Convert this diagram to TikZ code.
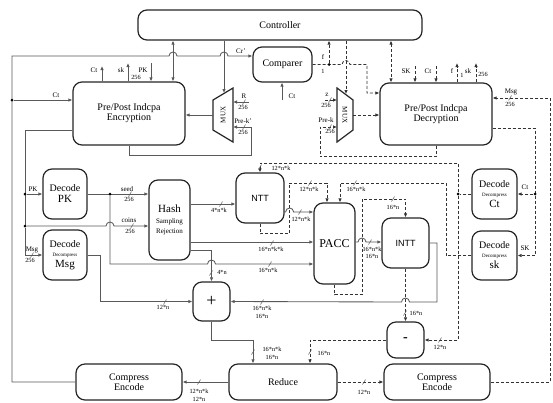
\documentclass[tikz,border=0pt]{standalone}
\usepackage{fontspec}
\setmainfont{Liberation Serif}
\newfontfamily\sansf{Liberation Sans}
\usetikzlibrary{arrows.meta,calc}
\newcommand{\fsz}[1]{\fontsize{#1}{#1}\selectfont}
\newcommand{\bus}[1]{\draw[ln,line width=0.5pt] ($(#1)+(-1.5,2.5)$) -- ($(#1)+(1.5,-2.5)$);}
\tikzset{
  blk/.style={draw=black!85, line width=1.2pt, rounded corners=9pt, align=center, inner sep=1pt, font=\fsz{10}},
  mux/.style={draw=black!85, line width=1.2pt},
  ln/.style={line width=0.85pt, draw=black!65},
  dln/.style={line width=0.85pt, draw=black!80, dash pattern=on 3pt off 2pt},
  arr/.style={-{Latex[length=4pt,width=3.5pt]}},
  barr/.style={{Latex[length=4pt,width=3.5pt]}-{Latex[length=4pt,width=3.5pt]}},
  lbl/.style={font=\fsz{6.3}, inner sep=0.5pt},
  sig/.style={font=\fsz{7}, inner sep=0.5pt},
  jdot/.style={circle, fill=black, inner sep=0pt, minimum size=3pt},
}
\begin{document}
\begin{tikzpicture}[x=1pt,y=-1pt]
\useasboundingbox[fill=white] (0,0) rectangle (553,402);

% blocks
\node[blk, minimum width=284pt, minimum height=30pt] (ctrl) at (280,25) {Controller};
\node[blk, minimum width=59pt, minimum height=35pt] (comp) at (282.5,64.5) {Comparer};
\node[blk, minimum width=112pt, minimum height=63pt] (enc) at (129,113.5) {Pre/Post Indcpa\\Encryption};
\node[blk, minimum width=112pt, minimum height=62pt] (dec) at (436,114) {Pre/Post Indcpa\\Decryption};
\node[blk, minimum width=44pt, minimum height=50pt] (dpk) at (65,194) {Decode\\[1pt]{\fsz{11}PK}};
\node[blk, minimum width=44pt, minimum height=50pt] (dmsg) at (65,255) {Decode\\[-1pt]{\fsz{5}Decompress}\\[1pt]{\fsz{11}Msg}};
\node[blk, minimum width=41pt, minimum height=80pt] (hash) at (169.5,220) {{\fsz{11}Hash}\\[1pt]{\fsz{7}Sampling}\\[0pt]{\fsz{7}Rejection}};
\node[blk, minimum width=48pt, minimum height=50pt, font=\sansf\fsz{9}] (ntt) at (260,198) {NTT};
\node[blk, minimum width=41pt, minimum height=81pt, font=\fsz{12}] (pacc) at (334.5,243.5) {PACC};
\node[blk, minimum width=47pt, minimum height=50pt, font=\sansf\fsz{9}] (intt) at (405.5,243) {INTT};
\node[blk, minimum width=45pt, minimum height=50pt] (dct) at (494.5,194) {Decode\\[-1pt]{\fsz{5}Decompress}\\[1pt]{\fsz{11}Ct}};
\node[blk, minimum width=45pt, minimum height=49pt] (dsk) at (494.5,255.5) {Decode\\[-1pt]{\fsz{5}Decompress}\\[1pt]{\fsz{11}sk}};
\node[blk, minimum width=37pt, minimum height=39pt, font=\fsz{18}] (plus) at (211.5,301.5) {+};
\node[blk, minimum width=37pt, minimum height=36pt, font=\bfseries\fsz{14}] (minus) at (405.5,340) {-};
\node[blk, minimum width=108pt, minimum height=36pt] (red) at (283,382) {Reduce};
\node[blk, minimum width=106pt, minimum height=36pt] (ce1) at (129,382) {Compress\\Encode};
\node[blk, minimum width=106pt, minimum height=36pt] (ce2) at (437,382) {Compress\\Encode};

% muxes
\draw[mux] (213,100) -- (233,88) -- (233,142) -- (213,130) -- cycle;
\node[font=\fsz{7}, rotate=90] (mxl) at (223,115) {MUX};
\draw[mux] (353,100) -- (337,88) -- (337,142) -- (353,130) -- cycle;
\node[font=\fsz{7}, rotate=-90] (mxr) at (345,115) {MUX};
\coordinate (mlT) at (224,93);
\coordinate (mlR) at (233,102);
\coordinate (mlP) at (233,127);
\coordinate (mlO) at (213,115);
\coordinate (mrT) at (346,94);
\coordinate (mrZ) at (337,100);
\coordinate (mrP) at (337,127);
\coordinate (mrO) at (353,115);

% rows used by the buses
\coordinate (r93) at (0,93);
\coordinate (r98) at (0,98);
\coordinate (r128) at (0,128);
\coordinate (r204) at (0,204);
\coordinate (r212) at (0,212);
\coordinate (r242) at (0,242);
\coordinate (r250) at (0,250);

% encryption side (solid)
\coordinate (lc) at (12,56);
\draw[ln,arr] (ce1.west) -| (lc) -- (169,56) arc[start angle=180,end angle=0,radius=4pt] -- (220,56) arc[start angle=180,end angle=0,radius=4pt] -- (lc -| comp.west);
\node[sig] (lcr) at (241,51) {Cr'};
\node[jdot] (d1) at (12,100) {};
\draw[ln,arr] (d1) -- (d1 -| enc.west);
\node[sig] (lct1) at (56,95) {Ct};
\coordinate (ect) at (102,66);
\draw[ln,arr] (ect |- enc.north) -- (ect);
\node[sig] (lct2) at (94,70) {Ct};
\coordinate (esk) at (128,63);
\draw[ln,arr] (esk |- enc.north) -- (esk);
\node[sig] (lsk1) at (121,70) {sk};
\node[lbl] (lsk1n) at (136,77) {256};
\coordinate (epk) at (151,63);
\draw[ln,arr] (epk) -- (epk |- enc.north);
\node[sig] (lpk1) at (143,70) {PK};
\coordinate (ecc) at (173,60);
\draw[ln,barr] (ecc |- ctrl.south) -- (ecc |- enc.north);
\draw[ln,arr] (mlT |- ctrl.south) -- (mlT);
\draw[ln,arr] (249,102) -- (mlR);
\node[sig] (lr) at (244,96) {R};
\node[lbl] (lrn) at (243,107) {256};
\draw[ln,arr] (enc.south) -- ++(0,10) -| (251,127) -- (mlP);
\node[sig] (lpre1) at (243,121) {Pre-k'};
\node[lbl] (lpre1n) at (243,132) {256};
\draw[ln,arr] (mlO) -- (mlO -| enc.east);
\coordinate (cct) at (282,100);
\draw[ln,arr] (cct) -- (cct |- comp.south);
\node[sig] (lct3) at (292,96) {Ct};

% decode side, left
\coordinate (pe) at (25,130);
\draw[ln] (pe -| enc.west) -- (pe) -- (25,226);
\node[jdot] (d2) at (25,194) {};
\node[jdot] (d3) at (25,226) {};
\draw[ln,arr] (d3) |- (dmsg.west);
\node[sig] (lmsg1) at (32,250) {Msg};
\node[lbl] (lmsg1n) at (30,260) {256};
\draw[ln,arr] (d2) -- (dpk.west);
\node[sig] (lpk2) at (33,189) {PK};
\draw[ln,arr] (dpk.east) -- (dpk.east -| hash.west);
\node[sig] (lseed) at (127,189) {seed};
\node[lbl] (lseedn) at (129,199) {256};
\node[jdot] (d4) at (110,194) {};
\draw[ln,arr] (d3) -- (106,226) arc[start angle=180,end angle=0,radius=4pt] -- (d3 -| hash.west);
\node[sig] (lcoins) at (129,220) {coins};
\node[lbl] (lcoinsn) at (130,231) {256};
\coordinate (q1) at (110,264);
\draw[ln,arr] (d4) -- (q1) -- (207.5,264) arc[start angle=180,end angle=0,radius=4pt] -- (q1 -| pacc.west);
\node[lbl] (l16a) at (268,270) {16*n*k};
\draw[ln,arr] (dmsg.east) -- (100,255) |- (plus.west);
\node[lbl] (l12a) at (163,307) {12*n};

% hash, ntt, pacc, intt
\draw[ln,arr] (r204 -| hash.east) -- (r204 -| ntt.west);
\node[lbl] (l4a) at (219,210) {4*n*k};
\draw[ln,arr] (r242 -| hash.east) -- (r242 -| pacc.west);
\node[lbl] (l16b) at (271,249) {16*n*k*k};
\draw[ln,arr] (r250 -| hash.east) -| (plus.north);
\node[lbl] (l4b) at (222,272) {4*n};
\draw[ln,arr] (r212 -| ntt.east) -- ++(1,0) arc[start angle=180,end angle=0,radius=4pt] -- (r212 -| pacc.west);
\node[lbl] (l12b) at (301,219) {12*n*k};
\draw[ln,arr] (r242 -| pacc.east) -- (358,242) arc[start angle=180,end angle=0,radius=4pt] -- (r242 -| intt.west);
\node[lbl] (l16c) at (372,249) {16*n*k};
\node[lbl] (l16d) at (372,256) {16*n};
\draw[ln,arr] (intt.east) -- (437,243) -- (437,302) -- (409.5,302) arc[start angle=0,end angle=180,radius=4pt] -- (plus.east);
\node[lbl] (l16e) at (262,308) {16*n*k};
\node[lbl] (l16f) at (262,316) {16*n};
\coordinate (c340) at (253,340);
\draw[ln,arr] (plus.south) |- (c340) -- (c340 |- red.north);
\node[lbl] (l16g) at (272,349) {16*n*k};
\node[lbl] (l16h) at (272,357) {16*n};
\draw[ln,arr] (red.west) -- (ce1.east);
\node[lbl] (l12c) at (199,391) {12*n*k};
\node[lbl] (l12d) at (199,399) {12*n};

% decryption side (dashed)
\draw[dln,arr] (comp.east) -- (342,64.5) arc[start angle=180,end angle=0,radius=4pt] -- (367,64.5) |- (r93 -| dec.west);
\node[jdot] (d5) at (329,64.5) {};
\node[sig] (lf1) at (323,57) {f};
\node[lbl] (lf1n) at (323,71) {1};
\draw[dln,arr] (d5) -- (d5 |- ctrl.south);
\draw[dln,arr] (mrT |- ctrl.south) -- (mrT);
\coordinate (dcc) at (391,60);
\draw[dln,barr] (dcc |- ctrl.south) -- (dcc |- dec.north);
\coordinate (dsk1) at (415,66);
\draw[dln,arr] (dsk1) -- (dsk1 |- dec.north);
\node[sig] (lsk2) at (406,71) {SK};
\coordinate (dct1) at (436,66);
\draw[dln,arr] (dct1) -- (dct1 |- dec.north);
\node[sig] (lct4) at (428,71) {Ct};
\coordinate (df1) at (457,63);
\draw[dln,arr] (df1 |- dec.north) -- (df1);
\node[sig] (lf2) at (452,71) {f};
\node[lbl] (lf2n) at (462,75) {1};
\coordinate (dsk2) at (476,63);
\draw[dln,arr] (dsk2 |- dec.north) -- (dsk2);
\node[sig] (lsk3) at (468,71) {sk};
\node[lbl] (lsk3n) at (483,74) {256};
\draw[dln,arr] (325,100) -- (mrZ);
\node[sig] (lz) at (327,95) {z};
\node[lbl] (lzn) at (326,105) {256};
\draw[dln,arr] (dec.south) -- ++(0,11) -| (320,127) -- (mrP);
\node[sig] (lpre2) at (326,120) {Pre-k};
\node[lbl] (lpre2n) at (330,131) {256};
\draw[dln,arr] (mrO) -- (mrO -| dec.west);
\draw[dln,arr] (ce2.east) -| (550,98) -- (r98 -| dec.east);
\node[sig] (lmsg2) at (511,92) {Msg};
\node[lbl] (lmsg2n) at (510,104) {256};
\draw[dln] (r128 -| dec.east) -| (535,194);
\node[jdot] (d6) at (535,194) {};
\draw[dln,arr] (d6) -- (dct.east);
\draw[dln,arr] (d6) |- (dsk.east);
\node[sig] (lct5) at (525,187) {Ct};
\node[sig] (lsk4) at (525,248) {SK};
\node[jdot] (d7) at (458,194) {};
\draw[dln] (dct.west) -- (d7);
\coordinate (c163) at (260,163);
\draw[dln,arr] (d7) |- (c163) -- (ntt.north);
\node[lbl] (l12e) at (281,168) {12*n*k};
\draw[dln,arr] (d7) |- (minus.east);
\node[lbl] (l12f) at (440,347) {12*n};
\coordinate (c183) at (340,183);
\draw[dln,arr] (dsk.west) -| (446,183) -- (c183) -- (c183 |- pacc.north);
\node[lbl] (l16i) at (356,189) {16*n*k};
\coordinate (c183b) at (327,183);
\draw[dln,arr] (ntt.south) -- ++(0,10) -| (289,183) -- (c183b) -- (c183b |- pacc.north);
\node[lbl] (l12g) at (309,189) {12*n*k};
\draw[dln,arr] (pacc.south) -- ++(0,10) -| (362,199) -| (intt.north);
\node[lbl] (l16j) at (393,207) {16*n};
\draw[dln,arr] (intt.south) -- (minus.north);
\node[lbl] (l16k) at (416,313) {16*n};
\coordinate (c310) at (310,340);
\draw[dln,arr] (minus.west) -- (c310) -- (c310 |- red.north);
\node[lbl] (l16l) at (324,353) {16*n};
\draw[dln,arr] (red.east) -- (ce2.west);
\node[lbl] (l12h) at (364,392) {12*n};

% bus ticks
\foreach \p in {{244,102},{244,127},{330,100},{330,127},{510,98},{130,194},{132,226},{32,255},
  {221,204},{272,243},{270,264},{300,212},{370,242},{165,302},{262,302},{211,273},{253,352},
  {310,352},{405,313},{440,340},{199,382},{364,382},{260,167},{310,183},{355,183},{393,199}}
  {\bus{\p}}
\end{tikzpicture}
\end{document}
